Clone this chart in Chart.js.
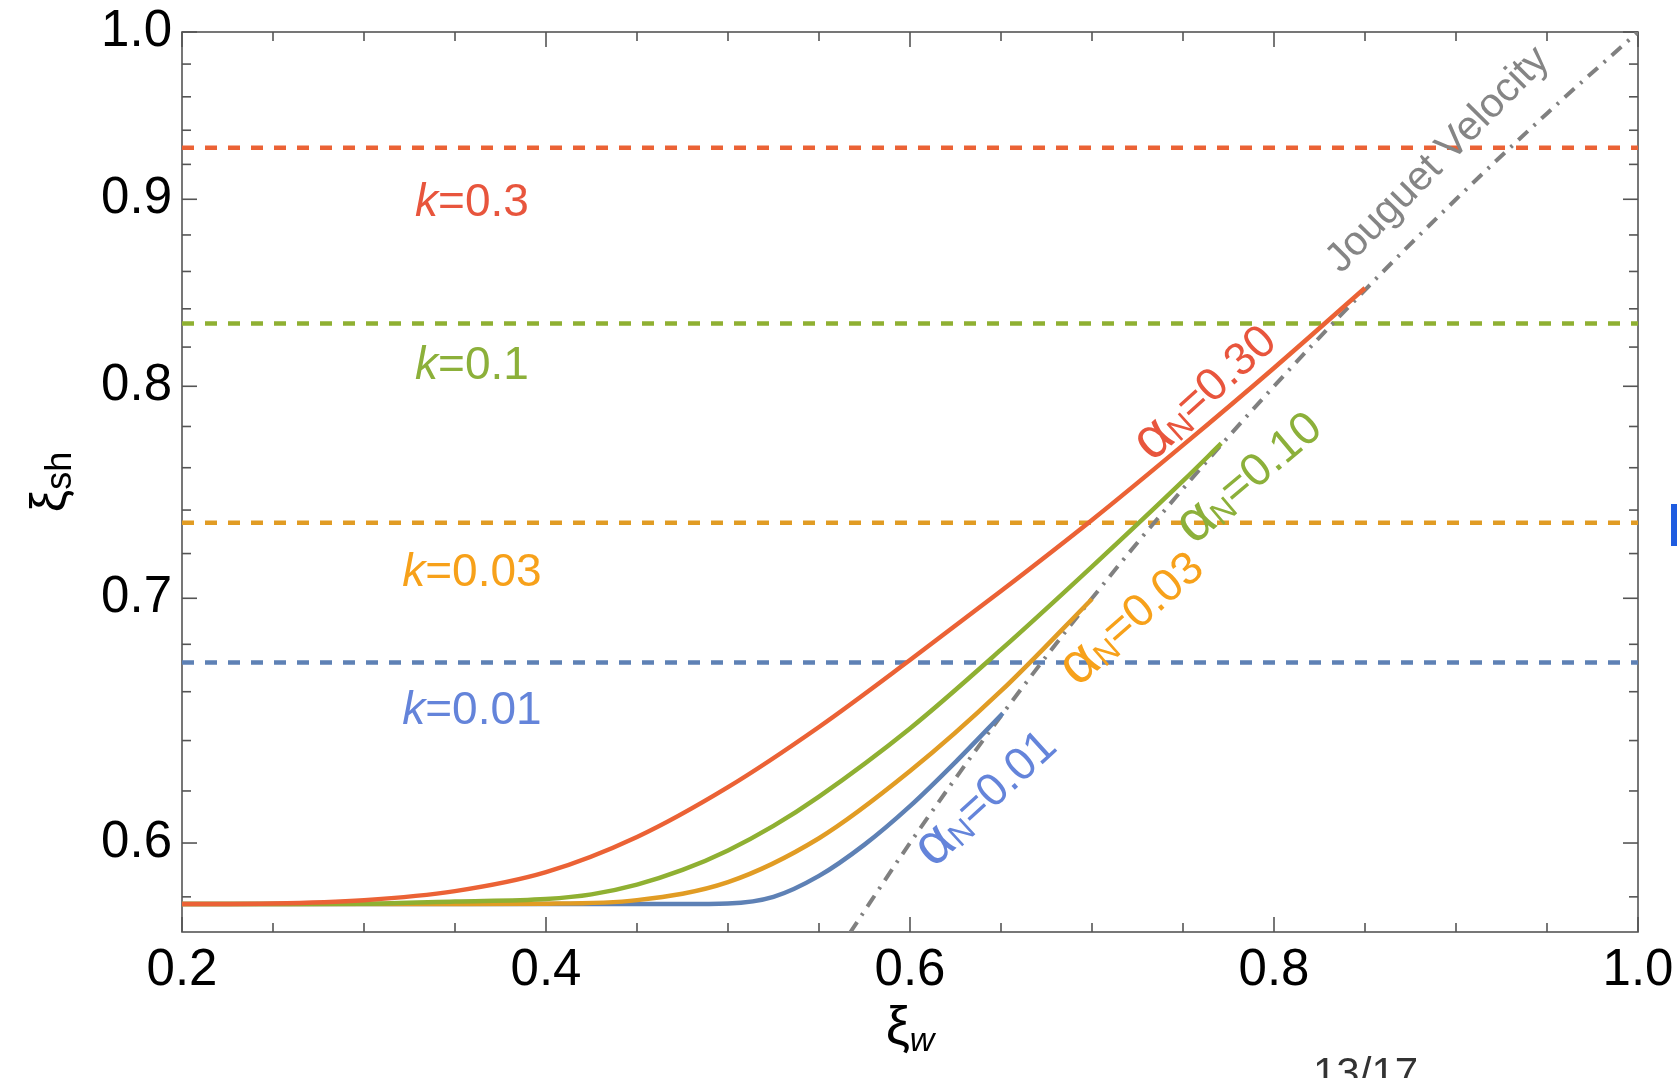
<!DOCTYPE html>
<html>
<head>
<meta charset="utf-8">
<title>xi_sh vs xi_w</title>
<script src="https://cdn.jsdelivr.net/npm/chart.js@4.4.0/dist/chart.umd.min.js"></script>
<style>
  html, body { margin: 0; padding: 0; background: #fff; }
  #wrap { width: 1677px; height: 1078px; overflow: hidden; }
</style>
</head>
<body>
<div id="wrap"><canvas id="shockChart" width="1677" height="1078"></canvas></div>
<script>
// --- data ---
// alpha_N = 0.30
const xiRed = [0.20, 0.25, 0.30, 0.35, 0.40, 0.45, 0.50, 0.55, 0.60, 0.65, 0.70, 0.75, 0.80, 0.85];
const shRed = [0.5774, 0.5776, 0.5788, 0.5821, 0.5891, 0.6023, 0.6215, 0.6455, 0.6733, 0.7032, 0.7354, 0.7709, 0.8093, 0.8511];
// alpha_N = 0.10
const xiGreen = [0.20, 0.25, 0.30, 0.35, 0.40, 0.425, 0.45, 0.475, 0.50, 0.525, 0.55, 0.60, 0.65, 0.70, 0.75, 0.771];
const shGreen = [0.5774, 0.5774, 0.5775, 0.5783, 0.5792, 0.5809, 0.5845, 0.5899, 0.5972, 0.6065, 0.6178, 0.6449, 0.6777, 0.7141, 0.7537, 0.7717];
// alpha_N = 0.03
const xiOrange = [0.20, 0.25, 0.30, 0.35, 0.40, 0.45, 0.50, 0.55, 0.60, 0.65, 0.70];
const shOrange = [0.5774, 0.5774, 0.5774, 0.5774, 0.5775, 0.5788, 0.5854, 0.6018, 0.6278, 0.6603, 0.6997];
// alpha_N = 0.01
const xiBlue = [0.20, 0.25, 0.30, 0.35, 0.40, 0.45, 0.475, 0.50, 0.525, 0.55, 0.575, 0.60, 0.625, 0.651];
const shBlue = [0.5774, 0.5774, 0.5774, 0.5774, 0.5774, 0.5774, 0.5774, 0.5776, 0.5800, 0.5877, 0.5994, 0.6141, 0.6314, 0.6511];
// Jouguet velocity line
const xiJouguet = [0.567, 0.60, 0.65, 0.70, 0.75, 0.80, 0.85, 0.90, 0.95, 1.00];
const shJouguet = [0.567, 0.60, 0.65, 0.70, 0.75, 0.80, 0.85, 0.90, 0.95, 1.00];
// horizontal k levels: k = 0.3, 0.1, 0.03, 0.01
const kNames = ['0.3', '0.1', '0.03', '0.01'];
const kLevels = [0.9297, 0.8323, 0.7341, 0.6723];

// ticks
const xMajor = [0.2, 0.4, 0.6, 0.8, 1.0];
const xMinor = [0.25, 0.3, 0.35, 0.45, 0.5, 0.55, 0.65, 0.7, 0.75, 0.85, 0.9, 0.95];
const yMajor = [0.6, 0.7, 0.8, 0.9, 1.0];
const yMinor = [0.58, 0.62, 0.64, 0.66, 0.68, 0.72, 0.74, 0.76, 0.78, 0.82, 0.84, 0.86, 0.88, 0.92, 0.94, 0.96, 0.98];
const yMin = 0.5673;

const FONT = '"Liberation Sans", Arial, sans-serif';
const C = { blue: '#5E81B5', orange: '#E19C24', green: '#8FB032', red: '#EB6235', gray: '#808080' };
const T = { blue: '#6484DA', orange: '#F7A11A', green: '#8CB03A', red: '#E8553D' };

const pts = (xs, ys) => xs.map((v, i) => ({ x: v, y: ys[i] }));

function curve(xs, ys, color) {
    return {
        data: pts(xs, ys),
        borderColor: color,
        borderWidth: 4.5,
        pointRadius: 0,
        cubicInterpolationMode: 'monotone',
        fill: false
    };
}

const datasets = [
    curve(xiRed, shRed, C.red),
    curve(xiGreen, shGreen, C.green),
    curve(xiOrange, shOrange, C.orange),
    curve(xiBlue, shBlue, C.blue),
    {
        data: pts(xiJouguet, shJouguet),
        borderColor: C.gray,
        borderWidth: 4,
        borderDash: [13, 8, 2.5, 8],
        pointRadius: 0,
        cubicInterpolationMode: 'monotone'
    }
];
const kColors = [C.red, C.green, C.orange, C.blue];
kLevels.forEach((v, i) => {
    datasets.push({
        data: [{ x: 0.2, y: v }, { x: 1.0, y: v }],
        borderColor: kColors[i],
        borderWidth: 4.5,
        borderDash: [12, 11],
        pointRadius: 0
    });
});

// text with several font runs, centred on (cx, cy), rotated by angle (deg, counter-clockwise)
function drawRich(ctx, parts, cx, cy, angle, color) {
    ctx.save();
    ctx.translate(cx, cy);
    ctx.rotate(-angle * Math.PI / 180);
    ctx.fillStyle = color;
    ctx.textBaseline = 'middle';
    ctx.textAlign = 'left';
    let total = 0;
    parts.forEach(p => {
        ctx.font = `${p.style || ''} ${p.size}px ${FONT}`;
        p.w = ctx.measureText(p.t).width;
        total += p.w;
    });
    let xp = -total / 2;
    parts.forEach(p => {
        ctx.font = `${p.style || ''} ${p.size}px ${FONT}`;
        ctx.fillText(p.t, xp, p.dy || 0);
        xp += p.w;
    });
    ctx.restore();
}

const frameTicks = {
    id: 'frameTicks',
    beforeDatasetsDraw(chart) {
        const { ctx, chartArea: a, scales: { x, y } } = chart;
        ctx.save();
        ctx.strokeStyle = '#555';
        ctx.lineWidth = 1.6;
        ctx.strokeRect(a.left, a.top, a.right - a.left, a.bottom - a.top);
        const seg = (x1, y1, x2, y2) => { ctx.beginPath(); ctx.moveTo(x1, y1); ctx.lineTo(x2, y2); ctx.stroke(); };
        xMajor.forEach(v => { const p = x.getPixelForValue(v); seg(p, a.bottom, p, a.bottom - 15); seg(p, a.top, p, a.top + 15); });
        xMinor.forEach(v => { const p = x.getPixelForValue(v); seg(p, a.bottom, p, a.bottom - 9); seg(p, a.top, p, a.top + 9); });
        yMajor.forEach(v => { const p = y.getPixelForValue(v); seg(a.left, p, a.left + 15, p); seg(a.right, p, a.right - 15, p); });
        yMinor.forEach(v => { const p = y.getPixelForValue(v); seg(a.left, p, a.left + 9, p); seg(a.right, p, a.right - 9, p); });
        ctx.restore();
    }
};

const labels = {
    id: 'labels',
    afterDatasetsDraw(chart) {
        const { ctx, chartArea: a, scales: { x, y } } = chart;
        const at = (xv, yv) => [x.getPixelForValue(xv), y.getPixelForValue(yv)];

        // k = ... labels
        const kLabelY = [0.8979, 0.8103, 0.7112, 0.652];
        const kText = [T.red, T.green, T.orange, T.blue];
        kNames.forEach((n, i) => {
            const [px, py] = at(0.3593, kLabelY[i]);
            drawRich(ctx, [{ t: 'k', size: 46, style: 'italic' }, { t: '=' + n, size: 46 }], px, py, 0, kText[i]);
        });

        // alpha_N labels along the curves
        const alpha = [
            { v: '0.30', xv: 0.7626, yv: 0.7966, ang: 42, c: T.red },
            { v: '0.10', xv: 0.7868, yv: 0.7551, ang: 40, c: T.green },
            { v: '0.03', xv: 0.7223, yv: 0.691, ang: 41, c: T.orange },
            { v: '0.01', xv: 0.6421, yv: 0.6171, ang: 42.5, c: T.blue }
        ];
        alpha.forEach(l => {
            const [px, py] = at(l.xv, l.yv);
            drawRich(ctx, [{ t: 'α', size: 58 }, { t: 'N', size: 32, dy: 10 }, { t: '=' + l.v, size: 46 }], px, py, l.ang, l.c);
        });

        const [jx, jy] = at(0.8901, 0.9226);
        drawRich(ctx, [{ t: 'Jouguet Velocity', size: 41 }], jx, jy, 45.4, '#858585');

        // axis titles
        drawRich(ctx, [{ t: 'ξ', size: 50 }, { t: 'sh', size: 36, dy: 10 }], a.left - 131, (a.top + a.bottom) / 2, 90, '#000');
        drawRich(ctx, [{ t: 'ξ', size: 54 }, { t: 'w', size: 34, style: 'italic', dy: 13 }], (a.left + a.right) / 2, a.bottom + 97, 0, '#000');

        // slide leftovers around the figure
        ctx.save();
        ctx.fillStyle = '#333';
        ctx.font = `42px ${FONT}`;
        ctx.textBaseline = 'alphabetic';
        ctx.fillText('13/17', 1313, 1087);
        ctx.fillStyle = '#1f5ce0';
        ctx.fillRect(1671, 504, 6, 42);
        ctx.restore();
    }
};

// keep the plot frame exactly where the layout padding puts it
const noEdgePadding = s => {
    s.paddingTop = 0; s.paddingBottom = 0; s.paddingLeft = 0; s.paddingRight = 0;
};

new Chart(document.getElementById('shockChart'), {
    type: 'line',
    data: { datasets: datasets },
    options: {
        responsive: false,
        animation: false,
        devicePixelRatio: 1,
        layout: { padding: { left: 0, top: 32, right: 39, bottom: 0 } },
        plugins: { legend: { display: false }, tooltip: { enabled: false } },
        scales: {
            x: {
                type: 'linear',
                min: 0.2,
                max: 1.0,
                afterBuildTicks: s => { s.ticks = xMajor.map(v => ({ value: v })); },
                afterFit: s => { s.height = 146; noEdgePadding(s); },
                grid: { display: false, drawTicks: false },
                border: { display: false },
                ticks: {
                    font: { family: FONT, size: 51 },
                    color: '#000',
                    padding: 8,
                    maxRotation: 0,
                    autoSkip: false,
                    callback: v => Number(v).toFixed(1)
                }
            },
            y: {
                type: 'logarithmic',
                min: yMin,
                max: 1.0,
                afterBuildTicks: s => { s.ticks = yMajor.map(v => ({ value: v })); },
                afterFit: s => { s.width = 182; noEdgePadding(s); },
                grid: { display: false, drawTicks: false },
                border: { display: false },
                ticks: {
                    font: { family: FONT, size: 51 },
                    color: '#000',
                    padding: 10,
                    autoSkip: false,
                    callback: v => Number(v).toFixed(1)
                }
            }
        }
    },
    plugins: [frameTicks, labels]
});
</script>
</body>
</html>
